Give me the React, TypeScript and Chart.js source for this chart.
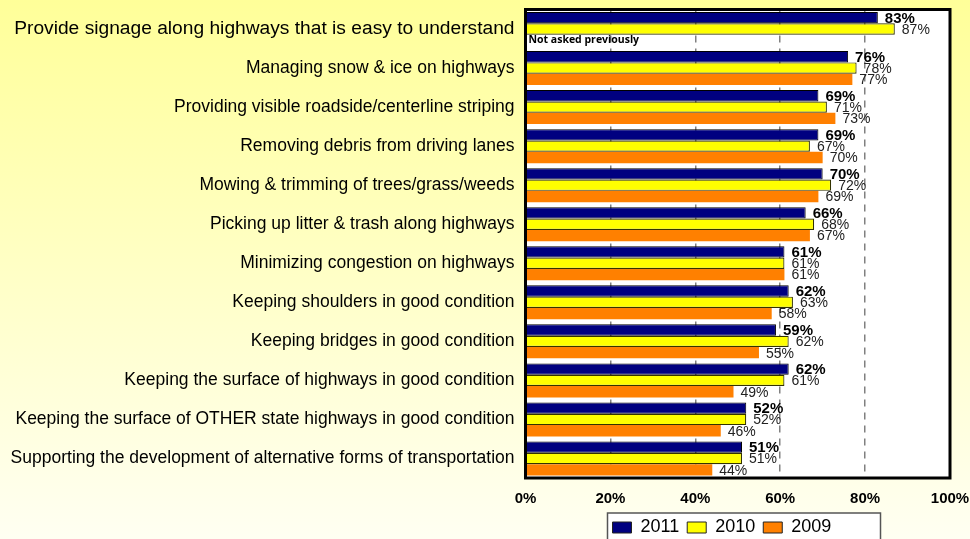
import React, { useEffect, useRef } from "react";
import { Chart, registerables } from "chart.js";
Chart.register(...registerables);

const categories = [
  "Provide signage along highways that is easy to understand",
  "Managing snow & ice on highways",
  "Providing visible roadside/centerline striping",
  "Removing debris from driving lanes",
  "Mowing & trimming of trees/grass/weeds",
  "Picking up litter & trash along highways",
  "Minimizing congestion on highways",
  "Keeping shoulders in good condition",
  "Keeping bridges in good condition",
  "Keeping the surface of highways in good condition",
  "Keeping the surface of OTHER state highways in good condition",
  "Supporting the development of alternative forms of transportation",
];
const values2011 = [83, 76, 69, 69, 70, 66, 61, 62, 59, 62, 52, 51];
const values2010 = [87, 78, 71, 67, 72, 68, 61, 63, 62, 61, 52, 51];
const values2009: (number | null)[] = [null, 77, 73, 70, 69, 67, 61, 58, 55, 49, 46, 44];
const seriesLabels = ["2011", "2010", "2009"];
const xMin = 0;
const xMax = 100;
const xStep = 20;
const noteText = "Not asked previously";

const FONT = '"Liberation Sans", Arial, sans-serif';

const decorPlugin = {
  id: "decor",
  beforeDraw(chart: any) {
    const { ctx, width, height, chartArea: ca } = chart;
    ctx.save();
    const g = ctx.createLinearGradient(0, 0, 0, height);
    g.addColorStop(0, "#FFFF99");
    g.addColorStop(1, "#FFFFF2");
    ctx.fillStyle = g;
    ctx.fillRect(0, 0, width, height);
    ctx.fillStyle = "#FFFFFF";
    ctx.fillRect(ca.left, ca.top, ca.right - ca.left, ca.bottom - ca.top);
    const lg = chart.legend;
    if (lg) {
      const bx = ca.left + 82;
      const by = ca.bottom + 35;
      lg.left = bx - 3;
      lg.right = lg.left + 320;
      lg.top = by - 2.5;
      ctx.fillStyle = "#FFFFFF";
      ctx.fillRect(bx, by, 273, 60);
      ctx.strokeStyle = "#555555";
      ctx.lineWidth = 1.5;
      ctx.strokeRect(bx, by, 273, 60);
    }
    ctx.restore();
  },
  afterDatasetsDraw(chart: any) {
    const { ctx, chartArea: ca } = chart;
    ctx.save();
    ctx.strokeStyle = "#000000";
    ctx.lineWidth = 3;
    ctx.strokeRect(ca.left, ca.top, ca.right - ca.left, ca.bottom - ca.top);
    ctx.textAlign = "left";
    ctx.textBaseline = "middle";
    chart.data.datasets.forEach((ds: any, di: number) => {
      const meta = chart.getDatasetMeta(di);
      meta.data.forEach((el: any, i: number) => {
        const v = ds.data[i];
        if (v == null) {
          let y = el.y;
          if (!isFinite(y)) {
            const prev = chart.getDatasetMeta(di - 1).data[i];
            y = prev.y + prev.height;
          }
          ctx.font = 'bold 10.5px "Open Sans", "DejaVu Sans", sans-serif';
          ctx.fillStyle = "#000000";
          ctx.fillText(noteText, ca.left + 3, y);
          return;
        }
        ctx.font = di === 0 ? `bold 15px ${FONT}` : `14px ${FONT}`;
        ctx.fillStyle = di === 0 ? "#000000" : "#222222";
        ctx.fillText(v + "%", el.x + 7, el.y + 1);
      });
    });
    ctx.restore();
  },
};

export default function App() {
  const ref = useRef<HTMLCanvasElement>(null);
  useEffect(() => {
    document.body.style.margin = "0";
    document.body.style.overflow = "hidden";
    const chart = new Chart(ref.current as HTMLCanvasElement, {
      type: "bar",
      data: {
        labels: categories,
        datasets: [
          {
            label: seriesLabels[0],
            data: values2011,
            backgroundColor: "#000080",
            borderColor: "#000000",
            borderWidth: 1,
          },
          {
            label: seriesLabels[1],
            data: values2010,
            backgroundColor: "#FFFF00",
            borderColor: "#333300",
            borderWidth: 1.2,
          },
          {
            label: seriesLabels[2],
            data: values2009,
            backgroundColor: "#FF8000",
            borderColor: "#FF8000",
            borderWidth: 0,
          },
        ],
      },
      options: {
        indexAxis: "y",
        animation: false,
        responsive: false,
        maintainAspectRatio: false,
        layout: { padding: { top: 9.5, right: 20, left: 0, bottom: 0 } },
        datasets: {
          bar: { categoryPercentage: 0.87, barPercentage: 1 },
        },
        scales: {
          x: {
            min: xMin,
            max: xMax,
            ticks: {
              stepSize: xStep,
              padding: 12,
              color: "#000000",
              font: { family: FONT, size: 15, weight: "bold" },
              callback: (v: any) => v + "%",
            },
            grid: {
              color: "#808080",
              lineWidth: 1.5,
              drawTicks: false,
            },
            border: { display: false, dash: [7, 6] },
            afterFit: (scale: any) => {
              const lh = scale.chart.legend ? scale.chart.legend.height : 0;
              scale.height = Math.max(10, 61 - lh);
              scale.paddingLeft = 0;
              scale.paddingRight = 0;
              scale.paddingTop = 0;
              scale.paddingBottom = 0;
            },
          },
          y: {
            ticks: {
              autoSkip: false,
              padding: 11,
              color: "#000000",
              font: (c: any) => ({ family: FONT, size: c.index === 0 ? 19.2 : 17.5 }),
            },
            grid: { display: false, drawTicks: false },
            border: { display: false },
            afterFit: (scale: any) => {
              scale.width = 525.5;
              scale.paddingLeft = 0;
              scale.paddingRight = 0;
              scale.paddingTop = 0;
              scale.paddingBottom = 0;
            },
          },
        },
        plugins: {
          legend: {
            position: "bottom",
            align: "start",
            labels: {
              color: "#000000",
              font: { family: FONT, size: 18 },
              boxWidth: 19,
              boxHeight: 11,
              padding: 8,
              generateLabels: (c: any) => {
                const items = (Chart.defaults.plugins.legend.labels as any).generateLabels(c);
                items.forEach((it: any) => {
                  it.strokeStyle = "#222222";
                  it.lineWidth = 1;
                });
                return items;
              },
            },
          },
          tooltip: { enabled: false },
        },
      },
      plugins: [decorPlugin],
    } as any);
    return () => chart.destroy();
  }, []);
  return (
    <div style={{ position: "fixed", left: 0, top: 0, width: 970, height: 539 }}>
      <canvas ref={ref} width={970} height={539} />
    </div>
  );
}
